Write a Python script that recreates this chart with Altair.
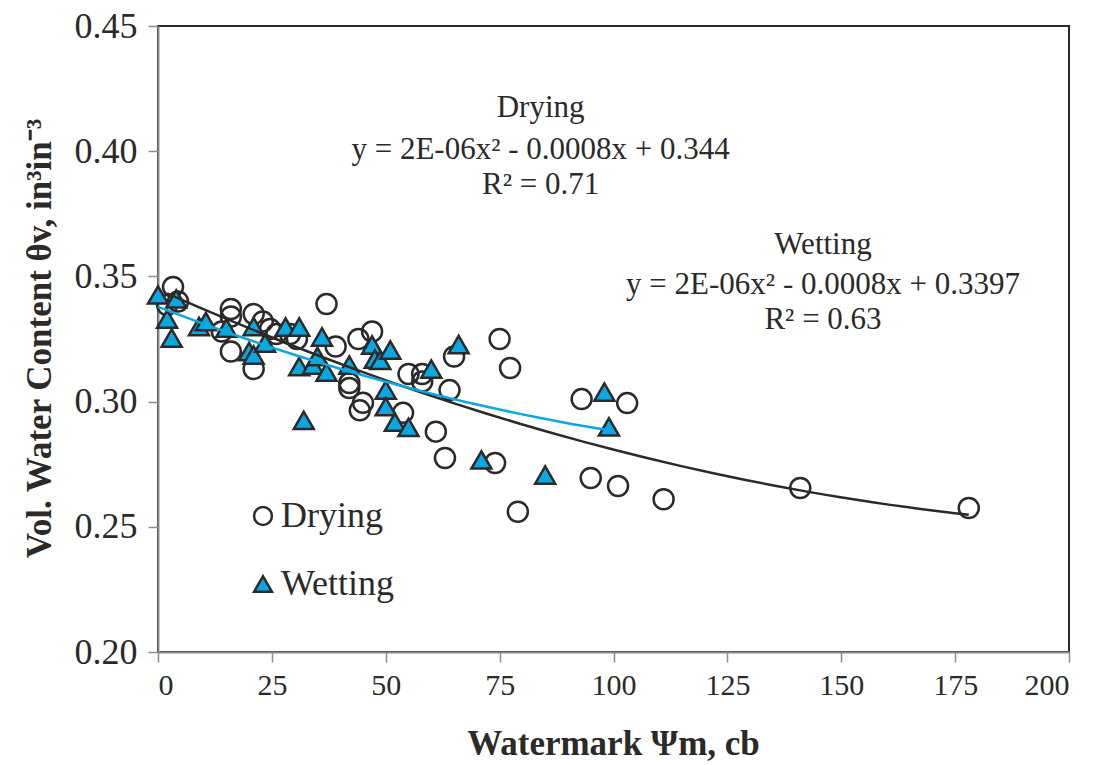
import altair as alt
import pandas as pd

# Drying (circles)
dry_x = [2, 3.3, 4.4, 14, 16, 16, 16, 21, 21, 23, 24.6, 26, 29, 30.5, 37, 39, 42, 42, 44,
         44.3, 45, 47, 53.8, 55, 58, 58, 61, 63, 64, 65, 74, 75, 77.3, 79, 93, 95, 101, 103,
         111, 141, 178]
dry_y = [0.3386, 0.3458, 0.340, 0.328, 0.337, 0.334, 0.320, 0.335, 0.313, 0.332, 0.329, 0.327,
         0.327, 0.325, 0.339, 0.322, 0.3074, 0.3054, 0.325, 0.2965, 0.2995, 0.328, 0.2955, 0.311,
         0.311, 0.308, 0.288, 0.2775, 0.3046, 0.318, 0.2755, 0.325, 0.3134, 0.256, 0.301, 0.2695,
         0.2663, 0.2994, 0.261, 0.2655, 0.2575]

# Wetting (triangles)
wet_x = [0, 2, 3, 4, 9, 10.5, 15, 20, 21, 21, 23.5, 28, 31, 31, 32, 34, 35, 36, 37, 42, 47,
         47.6, 48.8, 50, 50, 51, 52, 55, 60, 66, 71, 85, 98, 99]
wet_y = [0.3426, 0.333, 0.3254, 0.341, 0.330, 0.332, 0.3294, 0.320, 0.3186, 0.330, 0.3234, 0.3298,
         0.3298, 0.314, 0.2925, 0.3146, 0.318, 0.3258, 0.3118, 0.3146, 0.3226, 0.3170, 0.3165,
         0.3046, 0.298, 0.3206, 0.2918, 0.2897, 0.313, 0.3228, 0.2767, 0.2707, 0.3038, 0.2899]

series_names = ["Drying", "Wetting"]

# Annotations
ann_x = [84, 84, 84, 146, 146, 146]
ann_y = [0.4173, 0.4005, 0.3865, 0.3625, 0.3466, 0.3326]
ann_text = ["Drying", "y = 2E-06x² - 0.0008x + 0.344", "R² = 0.71",
            "Wetting", "y = 2E-06x² - 0.0008x + 0.3397", "R² = 0.63"]

df = pd.concat([
    pd.DataFrame({"x": dry_x, "y": dry_y, "series": "Drying"}),
    pd.DataFrame({"x": wet_x, "y": wet_y, "series": "Wetting"}),
], ignore_index=True)
ann = pd.DataFrame({"x": ann_x, "y": ann_y, "t": ann_text})

BLUE = "#0AA8E2"
DARK = "#2B2A29"
FONT = "Liberation Serif"

xscale = alt.Scale(domain=[0, 200], nice=False, zero=False)
yscale = alt.Scale(domain=[0.20, 0.45], nice=False, zero=False)

xaxis = alt.Axis(values=list(range(0, 201, 25)), title="Watermark Ψm, cb", grid=False,
                 domainColor="#8C8C8C", domainWidth=2, tickColor="#8C8C8C", tickWidth=1.5,
                 tickSize=10, labelFont=FONT, labelFontSize=30, labelColor=DARK, labelPadding=8,
                 titleFont=FONT, titleFontSize=35, titleFontWeight="bold", titleColor=DARK,
                 titleX=455, titleY=91, titleBaseline="middle", titleAlign="center")
yaxis = alt.Axis(values=[0.20, 0.25, 0.30, 0.35, 0.40, 0.45], format=".2f",
                 title="Vol. Water Content θv, in³in⁻³", grid=False,
                 domainColor="#8C8C8C", domainWidth=2, tickColor="#8C8C8C", tickWidth=1.5,
                 tickSize=10, labelFont=FONT, labelFontSize=36, labelColor=DARK, labelPadding=11,
                 titleFont=FONT, titleFontSize=35, titleFontWeight="bold", titleColor=DARK,
                 titleX=-119, titleY=312, titleBaseline="middle", titleAlign="center", titleAngle=270)

legend = alt.Legend(title=None, orient="none", legendX=87, legendY=472,
                    labelFont=FONT, labelFontSize=36, labelColor=DARK,
                    symbolSize=320, symbolStrokeWidth=2.5,
                    rowPadding=32, labelOffset=0)

points = alt.Chart(df).mark_point(size=400, strokeWidth=2.5, opacity=1, filled=False).encode(
    x=alt.X("x:Q", scale=xscale, axis=xaxis),
    y=alt.Y("y:Q", scale=yscale, axis=yaxis),
    shape=alt.Shape("series:N", scale=alt.Scale(domain=series_names, range=["circle", "triangle-up"]),
                    legend=legend),
    fill=alt.Fill("series:N", scale=alt.Scale(domain=series_names, range=["transparent", BLUE]),
                  legend=legend),
    stroke=alt.Stroke("series:N", scale=alt.Scale(domain=series_names, range=[DARK, DARK]),
                      legend=legend),
)

dry_line = alt.Chart(df).transform_filter(alt.datum.series == "Drying").transform_regression(
    "x", "y", method="poly", order=2).mark_line(color=DARK, strokeWidth=2.5).encode(
    x=alt.X("x:Q", scale=xscale), y=alt.Y("y:Q", scale=yscale))

wet_line = alt.Chart(df).transform_filter(alt.datum.series == "Wetting").transform_regression(
    "x", "y", method="poly", order=2).mark_line(color=BLUE, strokeWidth=2.5).encode(
    x=alt.X("x:Q", scale=xscale), y=alt.Y("y:Q", scale=yscale))

texts = alt.Chart(ann).mark_text(font=FONT, fontSize=31, color=DARK, align="center",
                                 baseline="middle").encode(
    x=alt.X("x:Q", scale=xscale), y=alt.Y("y:Q", scale=yscale), text="t:N")

chart = alt.layer(points, dry_line, wet_line, texts).properties(
    width=911, height=626,
    autosize=alt.AutoSizeParams(type="none"),
    padding={"left": 158, "top": 26, "right": 32, "bottom": 113},
    background="white",
).configure_view(stroke=DARK, strokeWidth=2)

chart.save("out.html", embed_options={"renderer": "svg", "actions": False})
